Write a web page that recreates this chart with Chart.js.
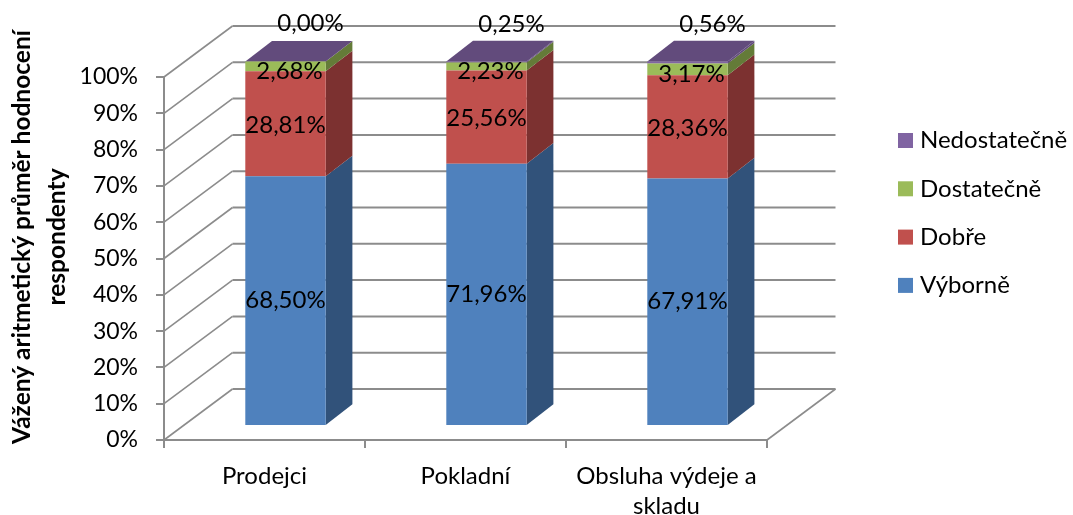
<!DOCTYPE html>
<html>
<head>
<meta charset="utf-8">
<title>Hodnocení</title>
<script src="https://cdn.jsdelivr.net/npm/chart.js@4"></script>
<style>
    html, body { margin: 0; padding: 0; background: #fff; }
    canvas { display: block; }
</style>
</head>
<body>
<canvas id="chart" width="1073" height="515"></canvas>
<script>
const categories = ['Prodejci', 'Pokladní', ['Obsluha výdeje a', 'skladu']];
const vyborne = [68.50, 71.96, 67.91];
const dobre = [28.81, 25.56, 28.36];
const dostatecne = [2.68, 2.23, 3.17];
const nedostatecne = [0.00, 0.25, 0.56];
const titleLines = ['Vážený aritmetický průměr hodnocení', 'respondenty'];

const FONT = 'Lato, Carlito, sans-serif';
const AXIS_GREY = '#8c8c8c';

// 3D look: the back wall and bar plane are offsets from the front plane
const WALL = { dx: 68.5, dy: -51 };
const BAR_PLANE = { dx: 21, dy: -14, scale: 1.004 };
const BAR_DEPTH = { dx: 26.7, dy: -20.7 };

// where the labels sit relative to the centre of the front face, per dataset
const labelNudge = [[0, 0], [0, 1], [4, 5], [25, -38]];

function toBarPlane(chart, x, y) {
    const bottom = chart.chartArea.bottom;
    return {
        x: x + BAR_PLANE.dx,
        y: bottom + BAR_PLANE.dy + (y - bottom) * BAR_PLANE.scale
    };
}

function poly(ctx, points, color) {
    ctx.fillStyle = color;
    ctx.beginPath();
    points.forEach((p, i) => i ? ctx.lineTo(p.x, p.y) : ctx.moveTo(p.x, p.y));
    ctx.closePath();
    ctx.fill();
}

const threeD = {
    id: 'threeD',
    beforeDatasetsDraw(chart) {
        const { ctx, chartArea, scales } = chart;
        ctx.save();

        // Wall gridlines
        ctx.strokeStyle = AXIS_GREY;
        scales.y.ticks.forEach(tick => {
            const y = scales.y.getPixelForValue(tick.value);
            ctx.lineWidth = 1.6;
            ctx.beginPath();
            ctx.moveTo(chartArea.left, y);
            ctx.lineTo(chartArea.left + WALL.dx, y + WALL.dy);
            ctx.stroke();
            ctx.lineWidth = 2;
            ctx.beginPath();
            ctx.moveTo(chartArea.left + WALL.dx, y + WALL.dy);
            ctx.lineTo(chartArea.right + WALL.dx, y + WALL.dy);
            ctx.stroke();
        });

        // Floor right edge
        ctx.lineWidth = 1.6;
        ctx.beginPath();
        ctx.moveTo(chartArea.right, chartArea.bottom);
        ctx.lineTo(chartArea.right + WALL.dx, chartArea.bottom + WALL.dy);
        ctx.stroke();

        // Bar side faces and top
        chart.data.datasets.forEach((dataset, i) => {
            chart.getDatasetMeta(i).data.forEach(bar => {
                const r = bar.x + bar.width / 2;
                const top = toBarPlane(chart, r, bar.y);
                const base = toBarPlane(chart, r, bar.base);
                poly(ctx, [
                    top,
                    { x: top.x + BAR_DEPTH.dx, y: top.y + BAR_DEPTH.dy },
                    { x: base.x + BAR_DEPTH.dx, y: base.y + BAR_DEPTH.dy },
                    base
                ], dataset.sideColor);
            });
        });
        const last = chart.data.datasets.length - 1;
        chart.getDatasetMeta(last).data.forEach(bar => {
            const a = toBarPlane(chart, bar.x - bar.width / 2, bar.y);
            const b = toBarPlane(chart, bar.x + bar.width / 2, bar.y);
            poly(ctx, [
                a,
                b,
                { x: b.x + BAR_DEPTH.dx, y: b.y + BAR_DEPTH.dy },
                { x: a.x + BAR_DEPTH.dx, y: a.y + BAR_DEPTH.dy }
            ], chart.data.datasets[last].topColor);
        });
        ctx.restore();

        // Move the real bars onto the bar plane
        const bottom = chartArea.bottom;
        ctx.save();
        ctx.translate(BAR_PLANE.dx, bottom + BAR_PLANE.dy);
        ctx.scale(1, BAR_PLANE.scale);
        ctx.translate(0, -bottom);
    },
    afterDatasetsDraw(chart) {
        const { ctx } = chart;
        ctx.restore();
        ctx.save();

        // Value labels
        ctx.font = '24px ' + FONT;
        ctx.fillStyle = '#000';
        ctx.textAlign = 'center';
        ctx.textBaseline = 'middle';
        chart.data.datasets.forEach((dataset, i) => {
            chart.getDatasetMeta(i).data.forEach((bar, j) => {
                const p = toBarPlane(chart, bar.x, (bar.y + bar.base) / 2);
                const text = dataset.data[j].toFixed(2).replace('.', ',') + '%';
                ctx.fillText(text, p.x + labelNudge[i][0], p.y + labelNudge[i][1]);
            });
        });

        // Legend, last series on top
        ctx.textAlign = 'left';
        [...chart.data.datasets].reverse().forEach((dataset, i) => {
            const y = 133 + i * 48.3;
            ctx.fillStyle = dataset.backgroundColor;
            ctx.fillRect(898, y, 15, 15);
            ctx.fillStyle = '#000';
            ctx.fillText(dataset.label, 920, y + 7.5);
        });

        // Axis title
        ctx.translate(0, 237);
        ctx.rotate(-Math.PI / 2);
        ctx.font = 'bold 24.5px ' + FONT;
        ctx.textAlign = 'center';
        titleLines.forEach((line, i) => ctx.fillText(line, 0, 22 + i * 35));
        ctx.restore();
    }
};

new Chart(document.getElementById('chart'), {
    type: 'bar',
    data: {
        labels: categories,
        datasets: [
            { label: 'Výborně', data: vyborne, backgroundColor: '#4F81BD', sideColor: '#31527A' },
            { label: 'Dobře', data: dobre, backgroundColor: '#C0504D', sideColor: '#7C3130' },
            { label: 'Dostatečně', data: dostatecne, backgroundColor: '#9BBB59', sideColor: '#647B38' },
            { label: 'Nedostatečně', data: nedostatecne, backgroundColor: '#8064A2', sideColor: '#624B7C', topColor: '#624B7C' }
        ]
    },
    options: {
        responsive: false,
        animation: false,
        events: [],
        clip: false,
        barPercentage: 0.4,
        categoryPercentage: 1,
        layout: { padding: { left: 0, top: 77, right: 306, bottom: 0 } },
        plugins: { legend: { display: false }, tooltip: { enabled: false } },
        scales: {
            x: {
                stacked: true,
                afterFit(scale) { scale.height = 75; },
                border: { color: AXIS_GREY, width: 2 },
                grid: { drawOnChartArea: false, color: AXIS_GREY, lineWidth: 2, tickLength: 8 },
                ticks: { color: '#000', font: { family: FONT, size: 24, lineHeight: 1.25 }, maxRotation: 0, padding: 13 }
            },
            y: {
                stacked: true,
                min: 0,
                max: 100,
                afterFit(scale) { scale.width = 164; },
                border: { color: AXIS_GREY, width: 2 },
                grid: { drawOnChartArea: false, color: AXIS_GREY, lineWidth: 2, tickLength: 8 },
                ticks: {
                    stepSize: 10,
                    color: '#000',
                    font: { family: FONT, size: 23 },
                    padding: 18,
                    callback: value => value + '%'
                }
            }
        }
    },
    plugins: [threeD]
});
</script>
</body>
</html>
